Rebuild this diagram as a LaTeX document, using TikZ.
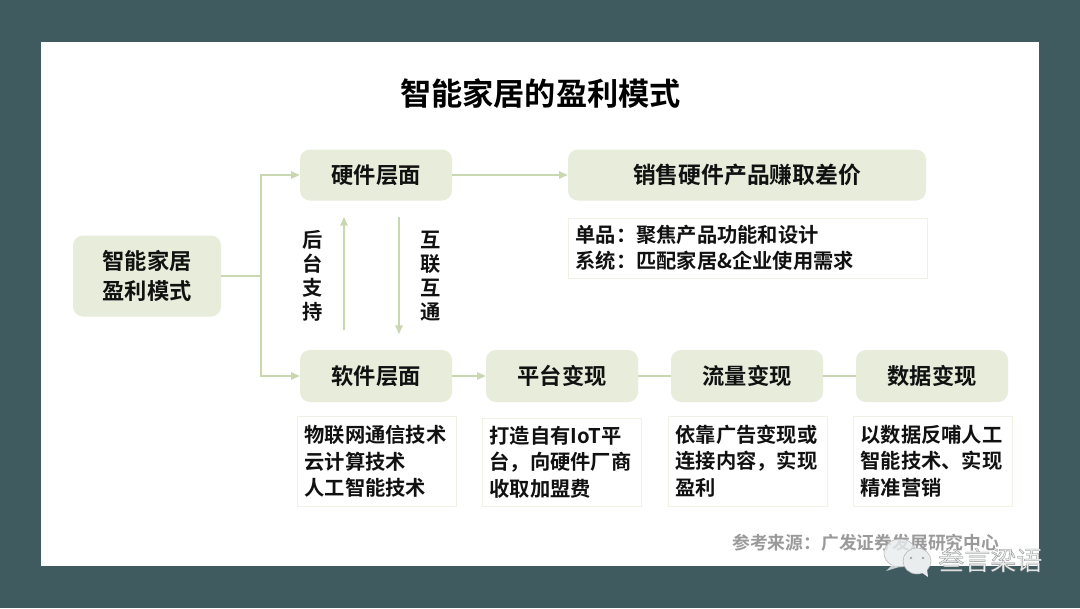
\documentclass[tikz,border=0pt]{standalone}
\usepackage{fontspec}
\setmainfont{Noto Sans CJK SC}[BoldFont={Noto Sans CJK SC Bold}]
\usetikzlibrary{arrows.meta}
\definecolor{bgteal}{HTML}{3F5B60}
\definecolor{boxgreen}{HTML}{E7ECDB}
\definecolor{linegreen}{HTML}{C9D8B0}
\definecolor{thinbox}{HTML}{EEF1E4}
\definecolor{ink}{HTML}{111111}
\definecolor{srcgray}{HTML}{9A9A9A}
\definecolor{markfill}{HTML}{E9EDED}
\tikzset{
  x=0.75pt,y=-0.75pt,
  pill/.style={fill=boxgreen,rounded corners=7.5pt,inner sep=0pt,align=center,text=ink,
    font=\fontsize{16.7}{22.5}\selectfont\bfseries},
  notebox/.style={draw=thinbox,line width=0.75pt,inner sep=0pt,align=left,text=ink,
    font=\fontsize{15.2}{19.9}\selectfont\bfseries},
  link/.style={draw=linegreen,line width=1.1pt},
  linkarrow/.style={link,-{Triangle[length=6.5pt,width=5.5pt,fill=linegreen]}},
  sidelabel/.style={align=center,inner sep=0pt,text=ink,font=\fontsize{15.2}{18}\selectfont\bfseries},
}
\begin{document}
\begin{tikzpicture}
\useasboundingbox (0,0) rectangle (1080,608);
\fill[bgteal] (0,0) rectangle (1080,608);
\fill[white] (41,42) rectangle (1039,566);
\node[inner sep=0pt,text=black,font=\fontsize{23.4}{28}\selectfont\bfseries] (title) at (540.5,94) {智能家居的盈利模式};
% main boxes
\node[pill,minimum width=111pt,minimum height=60.75pt] (root) at (147,276) {智能家居\\盈利模式};
\node[pill,minimum width=114pt,minimum height=38.25pt] (hw) at (376,175) {硬件层面};
\node[pill,minimum width=268.5pt,minimum height=38.25pt,font=\fontsize{17.1}{22.5}\selectfont\bfseries] (sell) at (747,175) {销售硬件产品赚取差价};
\node[pill,minimum width=114pt,minimum height=39pt] (sw) at (376,376) {软件层面};
\node[pill,minimum width=114pt,minimum height=39pt] (plat) at (562,376) {平台变现};
\node[pill,minimum width=114pt,minimum height=39pt] (flow) at (747,376) {流量变现};
\node[pill,minimum width=114pt,minimum height=39pt] (data) at (932,376) {数据变现};
% note boxes
\node[notebox,minimum width=269.25pt,minimum height=45pt,text width=258pt] (hwnote) at (747.5,248) {单品：聚焦产品功能和设计\\系统：匹配家居\&企业使用需求};
\node[notebox,minimum width=119.25pt,minimum height=67.5pt,text width=108pt] (n1) at (376.5,461.5) {物联网通信技术\\云计算技术\\人工智能技术};
\node[notebox,minimum width=119.25pt,minimum height=66pt,text width=108pt] (n2) at (561.5,462) {打造自有IoT平\\台，向硬件厂商\\收取加盟费};
\node[notebox,minimum width=119.25pt,minimum height=67.5pt,text width=108pt] (n3) at (747.5,461) {依靠广告变现或\\连接内容，实现\\盈利};
\node[notebox,minimum width=119.25pt,minimum height=67.5pt,text width=108pt] (n4) at (932.5,461) {以数据反哺人工\\智能技术、实现\\精准营销};
% side labels
\node[sidelabel] (back) at (313,276) {后\\台\\支\\持};
\node[sidelabel] (inter) at (430.5,276) {互\\联\\互\\通};
% connectors
\coordinate (fork) at (261,276);
\coordinate (upS) at (344,330);
\coordinate (upE) at (344,217);
\coordinate (dnS) at (399,217);
\coordinate (dnE) at (399,334);
\draw[link] (root.east) -- (fork);
\draw[linkarrow] (fork) |- (hw.west);
\draw[linkarrow] (fork) |- (sw.west);
\draw[linkarrow] (hw.east) -- (sell.west);
\draw[linkarrow] (sw.east) -- (plat.west);
\draw[link] (plat.east) -- (flow.west);
\draw[link] (flow.east) -- (data.west);
\draw[linkarrow] (upS) -- (upE);
\draw[linkarrow] (dnS) -- (dnE);
% source
\node[inner sep=0pt,text=srcgray,anchor=west,font=\fontsize{13.35}{16}\selectfont\bfseries] (src) at (732,543) {参考来源：广发证券发展研究中心};
% watermark
\draw[gray!60,line width=0.4pt,fill=markfill,fill opacity=0.8] (900,553) ellipse (16 and 14);
\fill[markfill,opacity=0.8] (892,565) -- (886,571) -- (899,567) -- cycle;
\draw[gray!60,line width=0.4pt,fill=markfill] (917,561) ellipse (14 and 13);
\fill[markfill] (921,572) -- (928,577) -- (927,569) -- cycle;
\fill[gray!70] (911,558) circle (1.4);
\fill[gray!70] (923,558) circle (1.4);
\node[inner sep=0pt,anchor=west,text=markfill,font=\fontsize{19.5}{24}\selectfont] (mark) at (938,560) {\special{pdf:literal direct 2 Tr 0.25 w 0.55 0.55 0.55 RG}叁言梁语\special{pdf:literal direct 0 Tr}};
\end{tikzpicture}
\end{document}
